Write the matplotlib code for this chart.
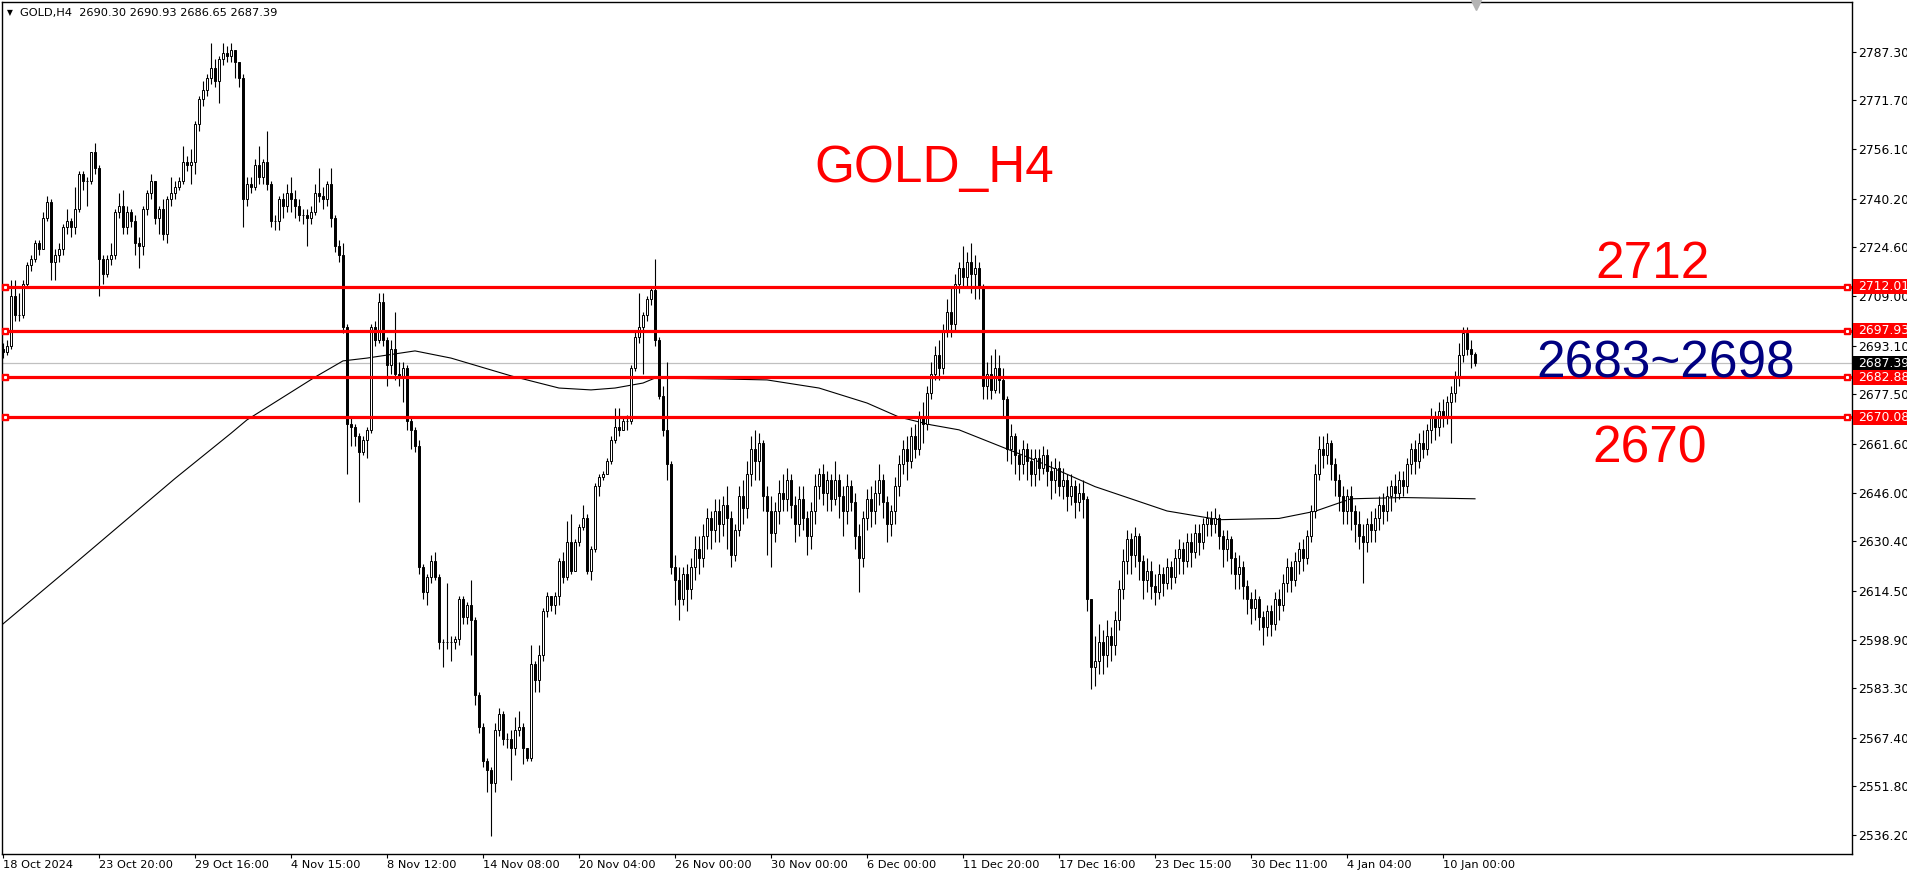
import matplotlib
matplotlib.use('Agg')
import matplotlib.pyplot as plt
import matplotlib.transforms as mtransforms
from matplotlib.patches import Rectangle
import numpy as np

# ---- data (GOLD H4 candles, bar index 0 = 18 Oct 2024) ----
first_open = 2692.0
closes = [
    2691, 2693, 2709, 2703, 2703, 2713, 2719, 2721, 2726, 2724,
    2734, 2739, 2720, 2722, 2724, 2731, 2733, 2731, 2737, 2748,
    2746, 2746, 2755, 2750, 2721, 2716, 2721, 2722, 2736, 2738,
    2731, 2736, 2733, 2726, 2725, 2737, 2742, 2746, 2734, 2737,
    2729, 2740, 2742, 2744, 2746, 2752, 2751, 2752, 2764, 2772,
    2775, 2779, 2782, 2778, 2785, 2787, 2786, 2788, 2784, 2779,
    2740, 2745, 2744, 2751, 2747, 2752, 2745, 2733, 2733, 2740,
    2738, 2742, 2740, 2738, 2735, 2735, 2734, 2736, 2742, 2741,
    2740, 2745, 2734, 2725, 2722, 2699, 2668, 2667, 2664, 2659,
    2663, 2666, 2699, 2695, 2707, 2695, 2687, 2692, 2684, 2683,
    2686, 2669, 2666, 2661, 2622, 2614, 2619, 2624, 2619, 2598,
    2598, 2598, 2598, 2599, 2612, 2606, 2610, 2605, 2581, 2571,
    2560, 2557, 2553, 2570, 2575, 2567, 2567, 2564, 2570, 2571,
    2564, 2561, 2591, 2586, 2594, 2608, 2613, 2610, 2613, 2624,
    2619, 2630, 2621, 2630, 2635, 2638, 2621, 2628, 2648, 2651,
    2652, 2656, 2663, 2667, 2666, 2669, 2669, 2686, 2696, 2699,
    2703, 2708, 2711, 2695, 2677, 2666, 2655, 2622, 2618, 2612,
    2620, 2615, 2622, 2628, 2625, 2632, 2638, 2634, 2640, 2636,
    2642, 2638, 2626, 2634, 2645, 2641, 2652, 2660, 2656, 2662,
    2645, 2640, 2633, 2640, 2646, 2644, 2650, 2642, 2636, 2644,
    2638, 2632, 2640, 2648, 2652, 2646, 2650, 2644, 2650, 2645,
    2640, 2648, 2643, 2632, 2625, 2638, 2644, 2640, 2646, 2650,
    2643, 2636, 2640, 2648, 2655, 2660, 2656, 2664, 2660, 2670,
    2668, 2678, 2684, 2690, 2686, 2698, 2704, 2700, 2713, 2718,
    2715, 2720, 2716, 2718, 2712, 2680, 2684, 2679, 2686, 2682,
    2676, 2660, 2664, 2658, 2655, 2660, 2656, 2652, 2657, 2654,
    2658, 2653, 2650, 2654, 2648, 2650, 2645, 2648, 2643, 2646,
    2644, 2612, 2590, 2592, 2598, 2594, 2600, 2597, 2605, 2615,
    2624, 2631, 2626, 2632, 2624, 2618, 2621, 2616, 2614, 2620,
    2617, 2622, 2619, 2625, 2628, 2624, 2630, 2627, 2633, 2630,
    2636, 2638, 2636, 2638, 2632, 2628, 2631, 2625, 2620, 2622,
    2616, 2612, 2609, 2612, 2606, 2603, 2608, 2604, 2612, 2610,
    2617, 2622, 2618, 2624, 2628, 2625, 2632, 2640, 2652, 2660,
    2658, 2662, 2655, 2650, 2645, 2640, 2645, 2640, 2636, 2632,
    2630, 2636, 2634, 2638, 2642, 2640, 2645, 2648, 2646, 2650,
    2648, 2655, 2660, 2656, 2662, 2660, 2666, 2670, 2667, 2672,
    2670, 2675, 2678, 2683, 2690, 2697, 2692, 2690.30, 2687.39,
]
highs = [
    2694, 2695, 2714, 2714, 2710, 2714, 2720, 2722, 2727, 2727,
    2736, 2741, 2740, 2724, 2726, 2732, 2737, 2734, 2744, 2749,
    2749, 2747, 2755, 2758, 2751, 2722, 2722, 2726, 2737, 2742,
    2743, 2738, 2737, 2735, 2728, 2738, 2743, 2748, 2746, 2738,
    2740, 2741, 2747, 2746, 2747, 2757, 2754, 2756, 2765, 2773,
    2778, 2780, 2790, 2785, 2786, 2790, 2789, 2790, 2788, 2783,
    2780, 2747, 2747, 2753, 2757, 2753, 2762, 2746, 2735, 2741,
    2742, 2745, 2747, 2743, 2740, 2737, 2737, 2738, 2745, 2750,
    2744, 2746, 2750, 2735, 2727, 2726, 2700, 2670, 2668, 2665,
    2664, 2667, 2700, 2701, 2710, 2710, 2696, 2695, 2704, 2688,
    2688, 2687, 2670, 2667, 2663, 2623, 2620, 2626, 2627, 2620,
    2599, 2617, 2600, 2600, 2613, 2613, 2611, 2618, 2606, 2582,
    2572, 2561, 2558, 2572, 2577, 2576, 2569, 2570, 2574, 2576,
    2572, 2564, 2597, 2592, 2597, 2609, 2614, 2613, 2614, 2625,
    2627, 2637, 2639, 2631, 2636, 2642, 2639, 2629, 2649, 2652,
    2653, 2657, 2664, 2673, 2673, 2670, 2671, 2687, 2698, 2710,
    2704, 2709, 2712, 2721, 2696, 2680, 2688, 2656, 2626, 2622,
    2622, 2623, 2625, 2632, 2632, 2636, 2641, 2640, 2644, 2644,
    2645, 2648, 2640, 2636, 2648, 2650, 2656, 2664, 2666, 2665,
    2663, 2648, 2645, 2643, 2650, 2652, 2654, 2652, 2645, 2648,
    2648, 2640, 2643, 2652, 2654, 2655, 2653, 2652, 2656, 2652,
    2648, 2652, 2650, 2646, 2636, 2640, 2647, 2648, 2650, 2655,
    2652, 2645, 2642, 2651, 2658, 2663, 2664, 2667, 2668, 2672,
    2675, 2680, 2688, 2693, 2695, 2700, 2708, 2712, 2716, 2720,
    2725, 2723, 2726, 2722, 2720, 2713, 2688, 2690, 2692, 2690,
    2686, 2677, 2668, 2665, 2660, 2663, 2662, 2660, 2660, 2660,
    2661, 2660, 2656, 2657, 2656, 2654, 2652, 2652, 2650, 2649,
    2650, 2645, 2612, 2600, 2604, 2602, 2605, 2603, 2608, 2618,
    2628, 2634, 2633, 2635, 2633, 2626, 2625, 2624, 2620, 2623,
    2622, 2625, 2624, 2628, 2631, 2630, 2633, 2633, 2636, 2636,
    2638, 2640, 2640, 2641, 2639, 2634, 2634, 2632, 2627, 2626,
    2624, 2618, 2614, 2615, 2613, 2608, 2610, 2610, 2614, 2615,
    2620, 2625, 2624, 2627, 2630, 2631, 2634, 2642, 2655, 2664,
    2664, 2665, 2663, 2657, 2652, 2648, 2647, 2648, 2642, 2640,
    2636, 2638, 2640, 2641, 2645, 2646, 2648, 2650, 2652, 2653,
    2653, 2657, 2662, 2663, 2665, 2666, 2668, 2673, 2672, 2675,
    2676, 2677, 2680, 2685, 2694, 2699, 2699, 2695, 2690.93,
]
lows = [
    2689, 2690, 2692, 2701, 2701, 2702, 2712, 2717, 2720, 2722,
    2724, 2733, 2714, 2714, 2720, 2722, 2729, 2728, 2729, 2736,
    2743, 2738, 2745, 2748, 2709, 2713, 2715, 2719, 2721, 2734,
    2729, 2729, 2731, 2722, 2718, 2722, 2735, 2740, 2732, 2729,
    2727, 2726, 2738, 2740, 2743, 2745, 2749, 2745, 2748, 2762,
    2770, 2773, 2777, 2776, 2771, 2783, 2784, 2784, 2779, 2776,
    2731, 2738, 2742, 2743, 2745, 2745, 2743, 2731, 2730, 2730,
    2734, 2736, 2736, 2734, 2733, 2732, 2725, 2732, 2735, 2739,
    2737, 2738, 2731, 2723, 2720, 2697, 2652, 2661, 2661, 2643,
    2658, 2657, 2665, 2693, 2694, 2693, 2680, 2684, 2682, 2680,
    2675, 2666, 2660, 2659, 2620, 2612, 2610, 2617, 2618, 2596,
    2590, 2596, 2592, 2596, 2597, 2604, 2604, 2594, 2578, 2569,
    2558, 2550, 2536, 2550, 2568, 2565, 2564, 2554, 2562, 2568,
    2559, 2560, 2560, 2582, 2582, 2592, 2606, 2608, 2607, 2610,
    2617, 2618, 2620, 2622, 2629, 2634, 2620, 2618, 2627, 2645,
    2650, 2652, 2655, 2662, 2664, 2666, 2666, 2668, 2685, 2694,
    2684, 2701, 2706, 2693, 2676, 2664, 2650, 2620, 2610, 2605,
    2610, 2608, 2612, 2618, 2620, 2622, 2628, 2628, 2630, 2630,
    2632, 2628, 2622, 2624, 2632, 2636, 2638, 2648, 2650, 2650,
    2640, 2626, 2622, 2630, 2636, 2640, 2640, 2638, 2630, 2632,
    2634, 2626, 2628, 2636, 2644, 2642, 2640, 2640, 2642, 2638,
    2632, 2636, 2640, 2628, 2614, 2622, 2634, 2635, 2636, 2642,
    2638, 2630, 2632, 2636, 2645, 2652, 2650, 2654, 2657, 2658,
    2662, 2666, 2676, 2682, 2682, 2684, 2696, 2696, 2698, 2710,
    2712, 2712, 2710, 2708, 2708, 2676, 2676, 2676, 2678, 2678,
    2670, 2656, 2655, 2652, 2650, 2652, 2650, 2648, 2648, 2650,
    2652, 2648, 2644, 2646, 2645, 2644, 2640, 2642, 2638, 2640,
    2638, 2608, 2583, 2584, 2588, 2588, 2590, 2592, 2594, 2602,
    2612, 2620, 2620, 2622, 2618, 2612, 2614, 2612, 2610, 2612,
    2613, 2615, 2615, 2617, 2620, 2620, 2622, 2622, 2625, 2626,
    2628, 2632, 2632, 2633, 2628, 2622, 2624, 2620, 2615, 2615,
    2612, 2607, 2604, 2605, 2602, 2597, 2600, 2600, 2602, 2605,
    2608, 2614, 2614, 2616, 2620, 2621, 2623, 2630, 2638, 2650,
    2654, 2655, 2650, 2645, 2640, 2636, 2636, 2634, 2630, 2628,
    2617, 2627, 2630, 2630, 2634, 2636, 2637, 2640, 2643, 2644,
    2645, 2646, 2652, 2652, 2654, 2657, 2658, 2662, 2663, 2664,
    2667, 2668, 2662, 2675, 2680, 2688, 2690, 2686, 2686.65,
]
opens = [first_open] + closes[:-1]

# moving average line, read at a few bars
ma_bars = [0, 18, 43, 57, 61, 78, 85, 91, 103, 112, 127, 139, 147, 153, 160, 163,
           180, 191, 204, 216, 224, 232, 239, 258, 273, 291, 304, 319, 328, 337, 350, 368]
ma_vals = [2603.9, 2623.3, 2650.5, 2665.0, 2669.3, 2683.0, 2688.2, 2689.1, 2691.4, 2689.1,
           2683.4, 2679.5, 2678.9, 2679.5, 2681.1, 2682.7, 2682.4, 2682.1, 2679.5, 2674.7,
           2670.2, 2667.7, 2666.1, 2656.4, 2647.9, 2640.1, 2637.3, 2637.7, 2640.0, 2644.0,
           2644.4, 2644.0]

levels = [2712.01, 2697.93, 2682.88, 2670.08]
bid = 2687.39
price_ticks = [2787.30, 2771.70, 2756.10, 2740.20, 2724.60, 2709.00, 2693.10, 2677.50,
               2661.60, 2646.00, 2630.40, 2614.50, 2598.90, 2583.30, 2567.40, 2551.80, 2536.20]
date_labels = ['18 Oct 2024', '23 Oct 20:00', '29 Oct 16:00', '4 Nov 15:00', '8 Nov 12:00',
               '14 Nov 08:00', '20 Nov 04:00', '26 Nov 00:00', '30 Nov 00:00', '6 Dec 00:00',
               '11 Dec 20:00', '17 Dec 16:00', '23 Dec 15:00', '30 Dec 11:00', '4 Jan 04:00',
               '10 Jan 00:00']
date_bars = [24 * k for k in range(len(date_labels))]

W, H = 1907, 872
fig = plt.figure(figsize=(W / 100, H / 100), dpi=100)
fig.patch.set_facecolor('white')
ax = fig.add_axes([2 / W, 18 / H, 1850 / W, 852 / H])
ax.set_xlim(-0.25, 462.25)
ax.set_ylim(2530.15, 2803.23)

tick_font = dict(family='DejaVu Sans', size=8.2)
price_font = dict(family='DejaVu Sans', size=8.9)

# candles
x = np.arange(len(closes))
o = np.array(opens, float)
c = np.array(closes, float)
hi = np.array(highs, float)
lo = np.array(lows, float)
up = c >= o
b_lo = np.minimum(o, c)
b_hi = np.maximum(o, c)
ax.vlines(x, np.minimum(lo, b_lo), np.maximum(hi, b_hi), color='black', lw=0.8, zorder=3)
ax.bar(x[up], (b_hi - b_lo)[up], bottom=b_lo[up], width=0.55, facecolor='white',
       edgecolor='black', linewidth=0.7, zorder=4)
ax.bar(x[~up], (b_hi - b_lo)[~up], bottom=b_lo[~up], width=0.55, facecolor='black',
       edgecolor='black', linewidth=0.7, zorder=4)

# moving average
ax.plot(ma_bars, ma_vals, color='black', lw=0.8, zorder=2)

# bid line
ax.axhline(bid, color='#c0c0c0', lw=0.9, zorder=1)

# horizontal levels
bt = mtransforms.blended_transform_factory(ax.transAxes, ax.transData)
for lv in levels:
    ax.axhline(lv, color='#ff0000', lw=2.3, zorder=6)
    for xa in (0.0015, 0.9975):
        ax.plot([xa], [lv], marker='s', ms=4.2, mfc='#ff0000', mec='#ff0000',
                transform=bt, clip_on=False, zorder=7)
        ax.plot([xa], [lv], marker='s', ms=1.2, mfc='white', mec='white',
                transform=bt, clip_on=False, zorder=8)

# chart shift marker
ax.plot([0.797], [0.996], marker='v', ms=7, color='#b4b4b4', transform=ax.transAxes,
        clip_on=False, zorder=9)

# axes styling
for s in ax.spines.values():
    s.set_color('black')
    s.set_linewidth(1.0)
ax.yaxis.tick_right()
ax.set_yticks(price_ticks)
ax.set_yticklabels(['%.2f' % p for p in price_ticks], **price_font)
ax.set_xticks(date_bars)
ax.set_xticklabels(date_labels, ha='left', **tick_font)
ax.tick_params(axis='y', direction='out', length=3, width=0.8, pad=1.5, colors='black')
ax.tick_params(axis='x', direction='out', length=3, width=0.8, pad=1.0, colors='black')

# right side price boxes
tr = mtransforms.blended_transform_factory(fig.transFigure, ax.transData)
box_h = 4.8
for lv, fc in [(levels[0], '#ff0000'), (levels[1], '#ff0000'), (bid, 'black'),
               (levels[2], '#ff0000'), (levels[3], '#ff0000')]:
    fig.add_artist(Rectangle((1853 / W, lv - box_h / 2), 60 / W, box_h, transform=tr,
                             facecolor=fc, edgecolor='none', zorder=10))
    fig.text(1858 / W, lv, '%.2f' % lv, transform=tr, color='white', va='center',
             ha='left', zorder=11, **price_font)

# header
fig.text(7 / W, 1 - 13 / H, '\u25bc', fontsize=5.5, family='DejaVu Sans', va='center')
fig.text(20 / W, 1 - 13 / H, 'GOLD,H4  2690.30 2690.93 2686.65 2687.39',
         va='center', ha='left', **tick_font)

# annotations
big = dict(family='Liberation Sans', size=37, ha='center', va='baseline', transform=bt)
ax.text(0.5038, 2745.5, 'GOLD_H4', color='#ff0000', **big)
ax.text(0.8924, 2714.7, '2712', color='#ff0000', zorder=12, **big)
ax.text(0.8995, 2683.0, '2683~2698', color='#000080', zorder=12, **big)
ax.text(0.8908, 2655.5, '2670', color='#ff0000', zorder=12, **big)

fig.savefig('out.png', dpi=100, facecolor='white')
